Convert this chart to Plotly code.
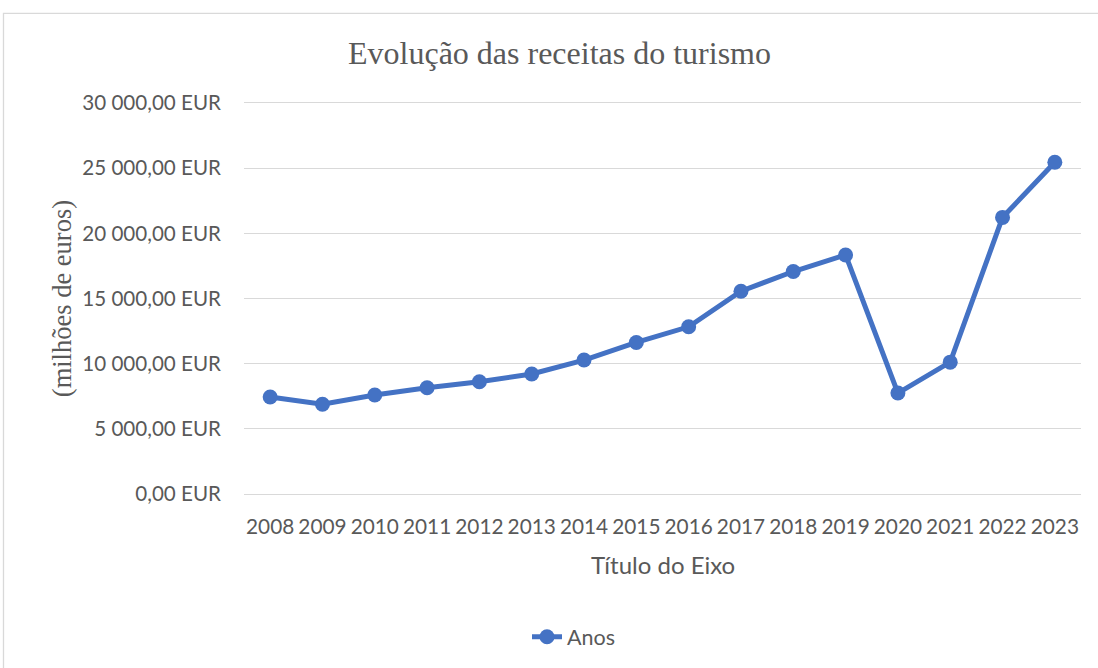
import plotly.graph_objects as go

years = ["2008", "2009", "2010", "2011", "2012", "2013", "2014", "2015",
         "2016", "2017", "2018", "2019", "2020", "2021", "2022", "2023"]
receitas = [7450, 6890, 7600, 8160, 8620, 9210, 10280, 11630,
            12830, 15560, 17070, 18340, 7750, 10120, 21220, 25450]
y_tickvals = [0, 5000, 10000, 15000, 20000, 25000, 30000]
y_ticktext = ["0,00 EUR", "5 000,00 EUR", "10 000,00 EUR", "15 000,00 EUR",
              "20 000,00 EUR", "25 000,00 EUR", "30 000,00 EUR"]

W, H = 1098, 668
# plot area: y=0 at 495.3px, y=30000 at 103.3px; padded by 300 units each side
pad = 300
scale = (495.3 - 103.3) / 30000
padpx = pad * scale
T = 103.3 - padpx
B = H - (495.3 + padpx)
L, R = 244, 17
pw = W - L - R
ph = H - T - B

def px_x(x):
    return (x - L) / pw

def px_y(y):
    return (H - B - y) / ph

blue = "#4472C4"
grey = "#595959"
grid = "#D9D9D9"
sans = "Lato, 'Open Sans', sans-serif"
serif = "'Liberation Serif', 'Times New Roman', serif"

fig = go.Figure()
fig.add_trace(go.Scatter(
    x=years, y=receitas, mode="lines+markers", name="Anos",
    line=dict(color=blue, width=5),
    marker=dict(color=blue, size=15),
))

fig.update_layout(
    width=W, height=H,
    margin=dict(l=L, r=R, t=T, b=B),
    paper_bgcolor="white", plot_bgcolor="white",
    showlegend=True,
    legend=dict(orientation="h", x=px_x(574), y=px_y(637), xanchor="center",
                yanchor="middle", font=dict(family=sans, size=21.5, color=grey),
                bgcolor="rgba(0,0,0,0)"),
    xaxis=dict(type="category", range=[-0.5, 15.5], showgrid=False,
               showline=False, zeroline=False, ticks="",
               tickfont=dict(family=sans, size=20.8, color=grey),
               ticklabelstandoff=int(round(18 - padpx))),
    yaxis=dict(range=[-pad, 30000 + pad], tickvals=y_tickvals, ticktext=y_ticktext,
               showgrid=True, gridcolor=grid, gridwidth=1.3, zeroline=False,
               showline=False, ticks="",
               tickfont=dict(family=sans, size=20.6, color=grey),
               ticklabelstandoff=22),
    annotations=[
        dict(text="Evolução das receitas do turismo", xref="paper", yref="paper",
             x=px_x(559), y=px_y(53), xanchor="center", yanchor="middle",
             showarrow=False, font=dict(family=serif, size=32, color=grey)),
        dict(text="(milhões de euros)", xref="paper", yref="paper",
             x=px_x(62), y=px_y(300), xanchor="center", yanchor="middle",
             textangle=-90, showarrow=False,
             font=dict(family=serif, size=26.5, color=grey)),
        dict(text="Título do Eixo", xref="paper", yref="paper",
             x=px_x(662.5), y=px_y(566), xanchor="center", yanchor="middle",
             showarrow=False, font=dict(family=sans, size=24, color=grey)),
    ],
    shapes=[
        dict(type="rect", xref="paper", yref="paper",
             x0=px_x(3.5), x1=px_x(1110), y0=px_y(680), y1=px_y(13.5),
             line=dict(color=grid, width=1.3), fillcolor="rgba(0,0,0,0)",
             layer="below"),
    ],
)

fig.write_html("out.html", config={"displayModeBar": False},
               post_script="document.body.style.margin='0';document.body.style.overflow='hidden';")
